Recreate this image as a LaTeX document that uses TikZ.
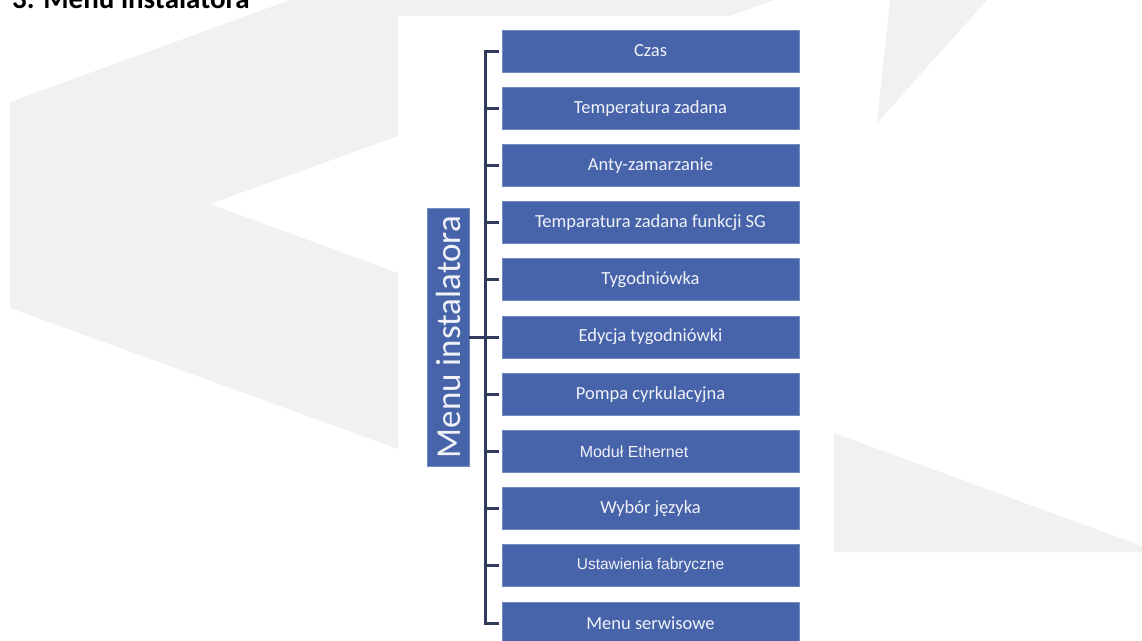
\documentclass[tikz,border=0pt]{standalone}
\usepackage{fontspec}
\setmainfont{Carlito}
\newfontfamily\arialfont{Liberation Sans}

\definecolor{boxblue}{HTML}{4763AA}
\definecolor{wmgrey}{HTML}{F1F1F1}
\definecolor{linenavy}{HTML}{2F3B5C}
\definecolor{txtwhite}{HTML}{F0F2F8}

\begin{document}
\begin{tikzpicture}[x=1pt, y=-1pt,
	menubox/.style={rectangle, fill=boxblue, draw=boxblue!75!white, line width=0.8pt,
		minimum width=297pt, minimum height=42pt, inner sep=0pt, text=txtwhite,
		font=\fontsize{18.5}{22}\selectfont},
	bracket/.style={draw=linenavy, line width=3pt, line join=miter}]
	\useasboundingbox (0,0) rectangle (1142,640);

	% watermark in the background
	\fill[wmgrey] (10,102) -- (290,0) -- (774,0) -- (210,204) -- (1142,546)
		-- (1142,552) -- (682,552) -- (10,308) -- cycle;
	\fill[wmgrey] (890,0) -- (987,0) -- (877,123) -- cycle;
	\fill[white] (398,16) rectangle (834,640);

	% heading, cut off at the top
	\node[anchor=base west, inner sep=0pt, font=\fontsize{29}{34}\selectfont\bfseries] (T) at (12,8) {3. Menu instalatora};

	% menu entries
	\node[menubox] (m1) at (650.5,51) {Czas};
	\node[menubox] (m2) at (650.5,108.2) {Temperatura zadana};
	\node[menubox] (m3) at (650.5,165.4) {Anty-zamarzanie};
	\node[menubox] (m4) at (650.5,222.6) {Temparatura zadana funkcji SG};
	\node[menubox] (m5) at (650.5,279.8) {Tygodniówka};
	\node[menubox] (m6) at (650.5,337) {Edycja tygodniówki};
	\node[menubox] (m7) at (650.5,394.2) {Pompa cyrkulacyjna};
	\node[menubox, font=\arialfont\fontsize{16}{19}\selectfont] (m8) at (650.5,451.4) {\hspace*{-33pt}Moduł Ethernet};
	\node[menubox] (m9) at (650.5,508.6) {Wybór języka};
	\node[menubox, font=\arialfont\fontsize{15.5}{18}\selectfont] (m10) at (650.5,565.8) {Ustawienia fabryczne};
	\node[menubox] (m11) at (650.5,623) {Menu serwisowe};

	% the side label
	\node[menubox, rotate=90, minimum width=258pt, font=\fontsize{35}{40}\selectfont] (M) at (448,337) {Menu instalatora};

	% bracket between label and entries
	\draw[bracket] ([xshift=-3pt]m1.west) -- ++(-13,0) |- ([xshift=-3pt]m11.west);
	\draw[bracket] ([xshift=-3pt]m2.west) -- ++(-13,0);
	\draw[bracket] ([xshift=-3pt]m3.west) -- ++(-13,0);
	\draw[bracket] ([xshift=-3pt]m4.west) -- ++(-13,0);
	\draw[bracket] ([xshift=-3pt]m5.west) -- ++(-13,0);
	\draw[bracket] ([xshift=-3pt]m7.west) -- ++(-13,0);
	\draw[bracket] ([xshift=-3pt]m8.west) -- ++(-13,0);
	\draw[bracket] ([xshift=-3pt]m9.west) -- ++(-13,0);
	\draw[bracket] ([xshift=-3pt]m10.west) -- ++(-13,0);
	\draw[bracket] (M.south) -- ([xshift=-3pt]m6.west);
\end{tikzpicture}
\end{document}
